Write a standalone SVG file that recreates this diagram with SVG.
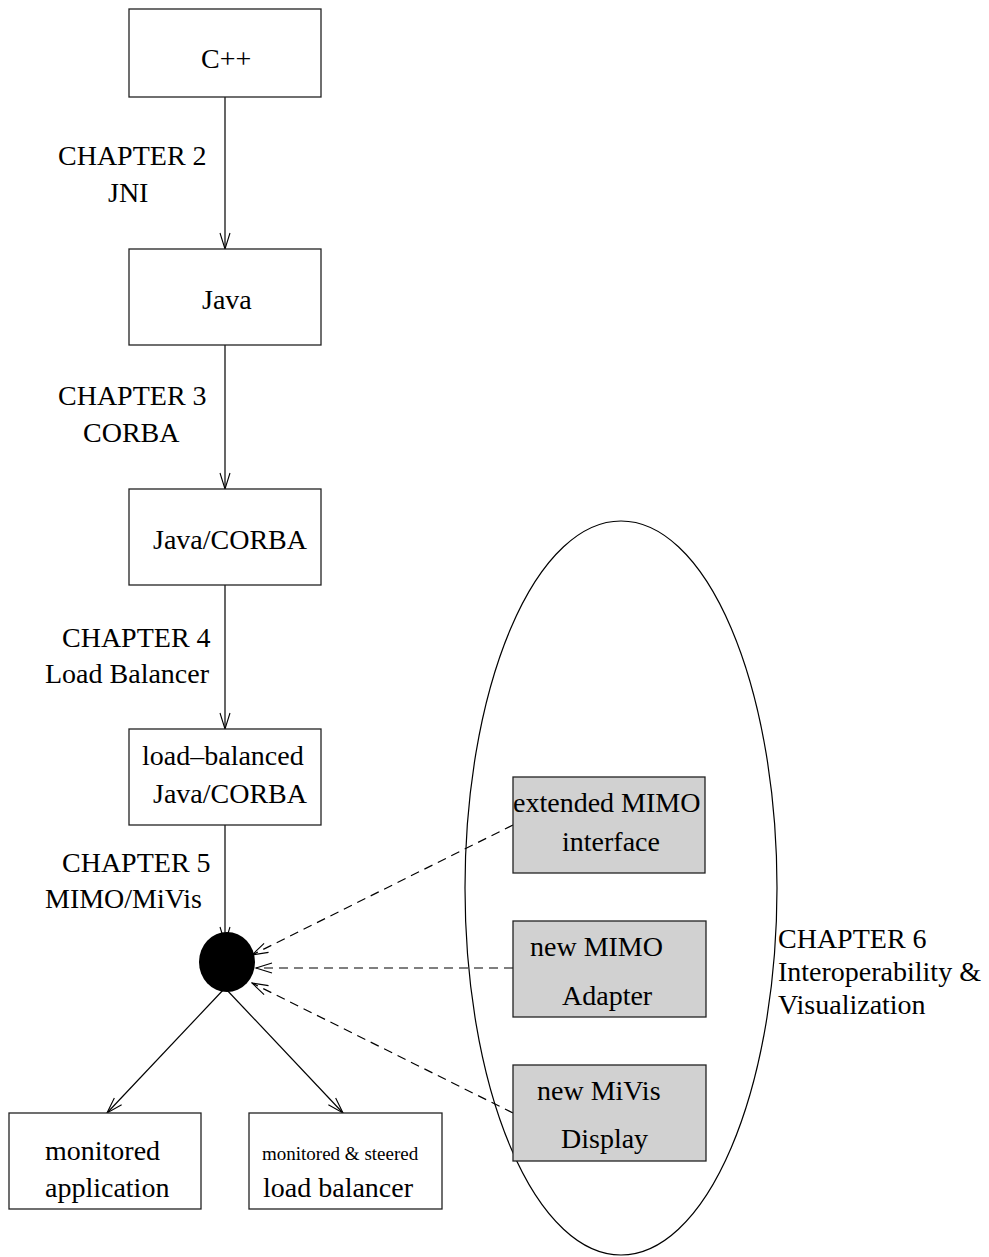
<svg xmlns="http://www.w3.org/2000/svg" width="989" height="1257" viewBox="0 0 989 1257">
  <style>
    .box { fill: #ffffff; stroke: #222222; stroke-width: 1.3; }
    .gbox { fill: #d1d1d1; stroke: #222222; stroke-width: 1.3; }
    .t { font-family: "Liberation Serif", "Times New Roman", serif; font-size: 28px; fill: #000000; }
    .ts { font-family: "Liberation Serif", "Times New Roman", serif; font-size: 19px; fill: #000000; }
    .edge { fill: none; stroke: #000000; stroke-width: 1.2; marker-end: url(#open); }
    .dash { stroke-dasharray: 9 6; }
  </style>
  <defs>
    <marker id="open" viewBox="0 0 18 12" refX="17" refY="6" markerWidth="18" markerHeight="12" markerUnits="userSpaceOnUse" orient="auto">
      <path d="M1,1 L17,6 L1,11" fill="none" stroke="#000000" stroke-width="1.1"/>
    </marker>
  </defs>
  <rect width="989" height="1257" fill="#ffffff"/>

  <!-- connectors -->
  <g id="connectors">
    <line class="edge" x1="225" y1="97" x2="225" y2="249"/>
    <line class="edge" x1="225" y1="345" x2="225" y2="489"/>
    <line class="edge" x1="225" y1="585" x2="225" y2="729"/>
    <line class="edge" x1="225" y1="825" x2="225" y2="943"/>
    <line class="edge" x1="225" y1="988" x2="107" y2="1113"/>
    <line class="edge" x1="225" y1="988" x2="343" y2="1113"/>
    <line class="edge dash" x1="513" y1="825" x2="252" y2="955"/>
    <line class="edge dash" x1="513" y1="968" x2="256" y2="968"/>
    <line class="edge dash" x1="513" y1="1113" x2="252" y2="983"/>
  </g>

  <!-- edge labels -->
  <g id="labels">
    <text class="t" x="58" y="165">CHAPTER 2</text>
    <text class="t" x="108" y="202">JNI</text>
    <text class="t" x="58" y="405">CHAPTER 3</text>
    <text class="t" x="83" y="442">CORBA</text>
    <text class="t" x="62" y="647">CHAPTER 4</text>
    <text class="t" x="45" y="683">Load Balancer</text>
    <text class="t" x="62" y="872">CHAPTER 5</text>
    <text class="t" x="45" y="908">MIMO/MiVis</text>
  </g>

  <g id="cpp">
    <rect class="box" x="129" y="9" width="192" height="88"/>
    <text class="t" x="201" y="68">C++</text>
  </g>
  <g id="java">
    <rect class="box" x="129" y="249" width="192" height="96"/>
    <text class="t" x="202" y="309">Java</text>
  </g>
  <g id="java-corba">
    <rect class="box" x="129" y="489" width="192" height="96"/>
    <text class="t" x="153" y="549">Java/CORBA</text>
  </g>
  <g id="lb-java-corba">
    <rect class="box" x="129" y="729" width="192" height="96"/>
    <text class="t" x="142" y="765">load–balanced</text>
    <text class="t" x="153" y="803">Java/CORBA</text>
  </g>
  <g id="hub">
    <ellipse cx="227" cy="962" rx="28" ry="30" fill="#000000"/>
  </g>
  <g id="monitored-app">
    <rect class="box" x="9" y="1113" width="192" height="96"/>
    <text class="t" x="45" y="1160">monitored</text>
    <text class="t" x="45" y="1197">application</text>
  </g>
  <g id="steered-lb">
    <rect class="box" x="249" y="1113" width="193" height="96"/>
    <text class="ts" x="262" y="1160">monitored &amp; steered</text>
    <text class="t" x="263" y="1197">load balancer</text>
  </g>

  <!-- chapter 6 group -->
  <g id="chapter6">
    <ellipse cx="621" cy="888" rx="156" ry="367" fill="none" stroke="#000000" stroke-width="1.2"/>
    <text class="t" x="778" y="948">CHAPTER 6</text>
    <text class="t" x="778" y="981">Interoperability &amp;</text>
    <text class="t" x="778" y="1014">Visualization</text>
  </g>
  <g id="mimo-interface">
    <rect class="gbox" x="513" y="777" width="192" height="96"/>
    <text class="t" x="513" y="812">extended MIMO</text>
    <text class="t" x="562" y="851">interface</text>
  </g>
  <g id="mimo-adapter">
    <rect class="gbox" x="513" y="921" width="193" height="96"/>
    <text class="t" x="530" y="956">new MIMO</text>
    <text class="t" x="562" y="1005">Adapter</text>
  </g>
  <g id="mivis-display">
    <rect class="gbox" x="513" y="1065" width="193" height="96"/>
    <text class="t" x="537" y="1100">new MiVis</text>
    <text class="t" x="561" y="1148">Display</text>
  </g>
</svg>
